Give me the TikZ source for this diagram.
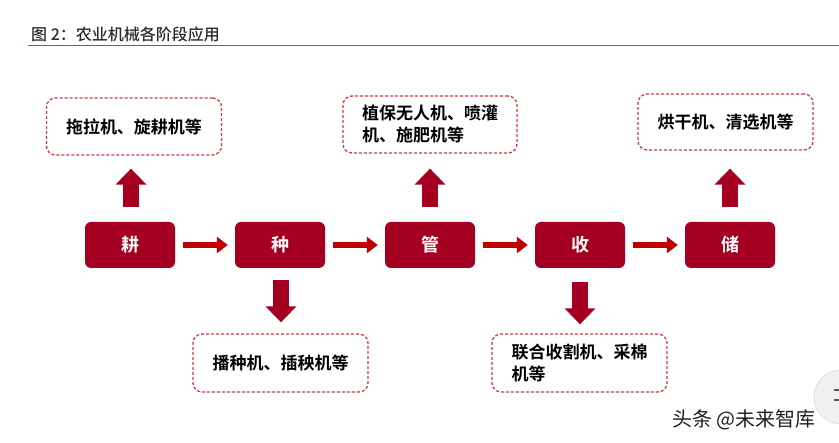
\documentclass[tikz,border=0pt]{standalone}
\usepackage{fontspec}
\setmainfont{Noto Sans CJK SC}[BoldFont={Noto Sans CJK SC Bold}]
\newfontfamily\cjkmed{Noto Sans CJK SC Medium}
\usetikzlibrary{arrows.meta,calc}
\definecolor{boxred}{HTML}{A50021}
\definecolor{arrred}{HTML}{C00000}
\definecolor{dashred}{HTML}{D23A40}
\definecolor{titlered}{HTML}{D9343A}
\definecolor{titlegray}{HTML}{2B2B2B}
\begin{document}
\begin{tikzpicture}[x=1pt,y=-1pt,
  stage/.style={fill=boxred, rounded corners=6pt, minimum width=90pt, minimum height=46pt,
    text=white, font=\fontsize{18}{20}\selectfont\bfseries, inner sep=0pt},
  machbox/.style={draw=dashred, dashed, dash pattern=on 3pt off 2pt, line width=1.3pt,
    rounded corners=9pt, minimum width=175pt, minimum height=57pt, align=left,
    font=\fontsize{17}{22}\selectfont\bfseries, text=black, inner sep=0pt},
  flowarrow/.style={draw=arrred, line width=6pt, -{Triangle[width=16pt,length=11pt]}},
  blockarrow/.style={draw=boxred, line width=16pt, -{Triangle[width=30pt,length=16pt]}}
]
\useasboundingbox (0,0) rectangle (839,443);
\fill[white] (0,0) rectangle (839,443);

% title
\node[anchor=base west, inner sep=0pt, text=titlegray, font=\fontsize{16}{18}\selectfont\cjkmed] (title) at (31,40.5) {图 2：农业机械各阶段应用};
\coordinate (lineL) at (28,45.5);
\coordinate (lineR) at (839,45.5);
\draw[titlered, line width=1pt] (lineL) -- (lineR);

% stages
\node[stage] (geng) at (130,245) {耕};
\node[stage] (zhong) at (280,245) {种};
\node[stage] (guan) at (430,245) {管};
\node[stage] (shou) at (580,245) {收};
\node[stage] (chu) at (730,245) {储};

% machine boxes
\node[machbox] (m1) at (134,126.5) {拖拉机、旋耕机等};
\node[machbox, minimum width=174pt] (m3) at (430,124.5) {植保无人机、喷灌\\机、施肥机等};
\node[machbox, minimum height=56pt] (m5) at (725.5,122) {烘干机、清选机等};
\node[machbox, minimum height=58pt] (m2) at (280.5,363) {播种机、插秧机等};
\node[machbox, minimum height=58pt] (m4) at (579.5,363) {联合收割机、采棉\\机等};

% flow arrows
\draw[flowarrow] ([xshift=8pt]geng.east) -- ([xshift=-7pt]zhong.west);
\draw[flowarrow] ([xshift=8pt]zhong.east) -- ([xshift=-7pt]guan.west);
\draw[flowarrow] ([xshift=8pt]guan.east) -- ([xshift=-7pt]shou.west);
\draw[flowarrow] ([xshift=8pt]shou.east) -- ([xshift=-7pt]chu.west);

% block arrows
\draw[blockarrow] ($(geng.north)+(1,-15)$) -- ($(m1.south)+(-3,13)$);
\draw[blockarrow] ($(guan.north)+(0,-15)$) -- ($(m3.south)+(0,15)$);
\draw[blockarrow] ($(chu.north)+(0,-15)$) -- ($(m5.south)+(4.5,18)$);
\draw[blockarrow] ($(zhong.south)+(1,12)$) -- ($(m2.north)+(0.5,-11)$);
\draw[blockarrow] ($(shou.south)+(0,14)$) -- ($(m4.north)+(0.5,-9)$);

% screen button at the right edge
\fill[black!6] (841,397) circle (27);
\draw[black!15, line width=0.6pt] (841,397) circle (27);
\draw[black!65, line width=1.6pt] (834,390) -- (839,390);
\draw[black!65, line width=1.6pt] (834,400) -- (839,400);

% watermark
\node[anchor=base west, inner sep=0pt, text=black!88, font=\fontsize{20}{22}\selectfont] (wm) at (672,427) {头条 @未来智库};
\end{tikzpicture}
\end{document}
